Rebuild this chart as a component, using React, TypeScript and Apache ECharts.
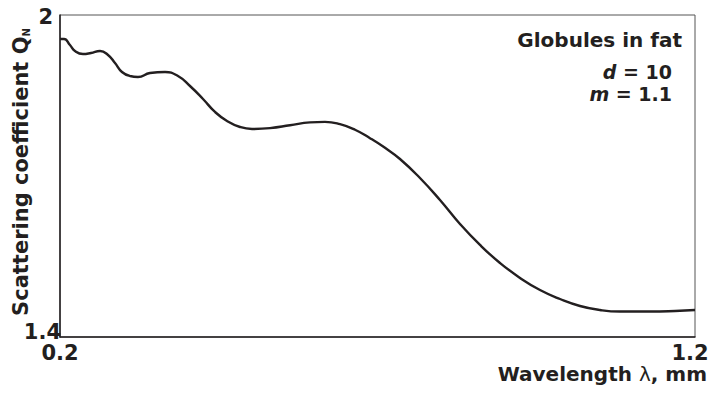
import React, { useEffect, useRef } from "react";
import * as echarts from "echarts";

const wavelength = [
  0.2, 0.2063, 0.2157, 0.2236, 0.2362, 0.2488, 0.263, 0.2756, 0.2866, 0.2976,
  0.3102, 0.3228, 0.3417, 0.3654, 0.3858, 0.4047, 0.4252, 0.4441, 0.463, 0.4835,
  0.5024, 0.5307, 0.5622, 0.5937, 0.6173, 0.6409, 0.6646, 0.6882, 0.7118, 0.7354,
  0.7669, 0.7984, 0.8299, 0.8614, 0.8929, 0.9244, 0.9559, 0.9874, 1.0189, 1.0504,
  1.0819, 1.1291, 1.1685, 1.2,
];
const qn = [
  1.9553, 1.9553, 1.9441, 1.9329, 1.9273, 1.9292, 1.9329, 1.9255, 1.9106, 1.8938,
  1.8863, 1.8845, 1.8919, 1.8938, 1.8863, 1.8677, 1.8435, 1.8193, 1.8025, 1.7913,
  1.7876, 1.7892, 1.7945, 1.8, 1.8008, 1.7965, 1.7862, 1.7705, 1.7525, 1.7317,
  1.6963, 1.6553, 1.6106, 1.5715, 1.5379, 1.51, 1.4876, 1.4708, 1.4578, 1.4503,
  1.4475, 1.4475, 1.4485, 1.4503,
];
const xTicks = [0.2, 1.2];
const yTicks = [1.4, 2];

const FONT = "'DejaVu Sans', 'Liberation Sans', Arial, sans-serif";
const INK = "#231f20";

export default function App() {
  const ref = useRef<HTMLDivElement>(null);
  useEffect(() => {
    if (!ref.current) return;
    const chart = echarts.init(ref.current, undefined, { renderer: "svg" });
    chart.setOption({
      animation: false,
      backgroundColor: "#ffffff",
      textStyle: { fontFamily: FONT },
      grid: {
        left: 60,
        right: 13,
        top: 15,
        bottom: 56,
        containLabel: false,
        outerBoundsMode: "none",
        show: true,
        borderColor: "#555",
        borderWidth: 1,
      },
      xAxis: {
        type: "value",
        min: xTicks[0],
        max: xTicks[1],
        axisLine: { show: true, lineStyle: { color: INK, width: 1.5 } },
        axisTick: { show: false },
        splitLine: { show: false },
        axisLabel: {
          customValues: xTicks,
          margin: 5,
          color: INK,
          fontSize: 21,
          fontWeight: "bold",
          fontFamily: FONT,
          formatter: (v: number) => (v === xTicks[1] ? "{r|" + v.toFixed(1) + "}" : v.toFixed(1)),
          rich: {
            r: { fontSize: 21, fontWeight: "bold", color: INK, fontFamily: FONT, padding: [0, 10, 0, 0] },
          },
        },
      },
      yAxis: {
        type: "value",
        min: yTicks[0],
        max: yTicks[1],
        axisLine: { show: true, lineStyle: { color: INK, width: 1.5 } },
        axisTick: { show: false },
        splitLine: { show: false },
        name: "Scattering coefficient Q{sub|N}",
        nameLocation: "middle",
        nameRotate: 90,
        nameGap: 29,
        nameMoveOverlap: false,
        nameTextStyle: {
          fontSize: 21,
          fontWeight: "bold",
          color: INK,
          fontFamily: FONT,
          padding: [0, 0, 0, 8],
          rich: {
            sub: { fontSize: 10, fontWeight: "bold", color: INK, fontFamily: FONT, verticalAlign: "bottom" },
          },
        },
        axisLabel: {
          customValues: yTicks,
          margin: -1,
          color: INK,
          fontSize: 21,
          fontWeight: "bold",
          fontFamily: FONT,
          formatter: (v: number) => (v === 2 ? "{a|2}" : "{b|" + v.toFixed(1) + "}"),
          rich: {
            a: { fontSize: 21, fontWeight: "bold", color: INK, fontFamily: FONT, padding: [4, 8, 0, 0] },
            b: { fontSize: 21, fontWeight: "bold", color: INK, fontFamily: FONT, padding: [0, 0, 10, 0] },
          },
        },
      },
      graphic: [
        {
          type: "text",
          right: 1,
          top: 364,
          style: {
            text: "Wavelength {l|λ}, mm",
            fill: INK,
            font: "bold 20px " + FONT,
            rich: {
              l: { fontSize: 20, fontWeight: "normal", fill: INK, fontFamily: FONT },
            },
          },
        },
        {
          type: "text",
          right: 26,
          top: 30,
          style: { text: "Globules in fat", fill: INK, font: "bold 20px " + FONT },
        },
        {
          type: "text",
          right: 36,
          top: 62,
          style: {
            text: "{i|d} = 10",
            fill: INK,
            font: "bold 19px " + FONT,
            rich: { i: { fontSize: 19, fontWeight: "bold", fontStyle: "italic", fill: INK, fontFamily: FONT } },
          },
        },
        {
          type: "text",
          right: 36,
          top: 84,
          style: {
            text: "{i|m} = 1.1",
            fill: INK,
            font: "bold 19px " + FONT,
            rich: { i: { fontSize: 19, fontWeight: "bold", fontStyle: "italic", fill: INK, fontFamily: FONT } },
          },
        },
      ],
      series: [
        {
          type: "line",
          data: wavelength.map((x, i) => [x, qn[i]]),
          smooth: 0.5,
          showSymbol: false,
          lineStyle: { color: INK, width: 2.4 },
          silent: true,
        },
      ],
    });
    return () => chart.dispose();
  }, []);
  return (
    <div
      ref={ref}
      style={{ position: "fixed", left: 0, top: 0, width: 708, height: 393 }}
    />
  );
}
